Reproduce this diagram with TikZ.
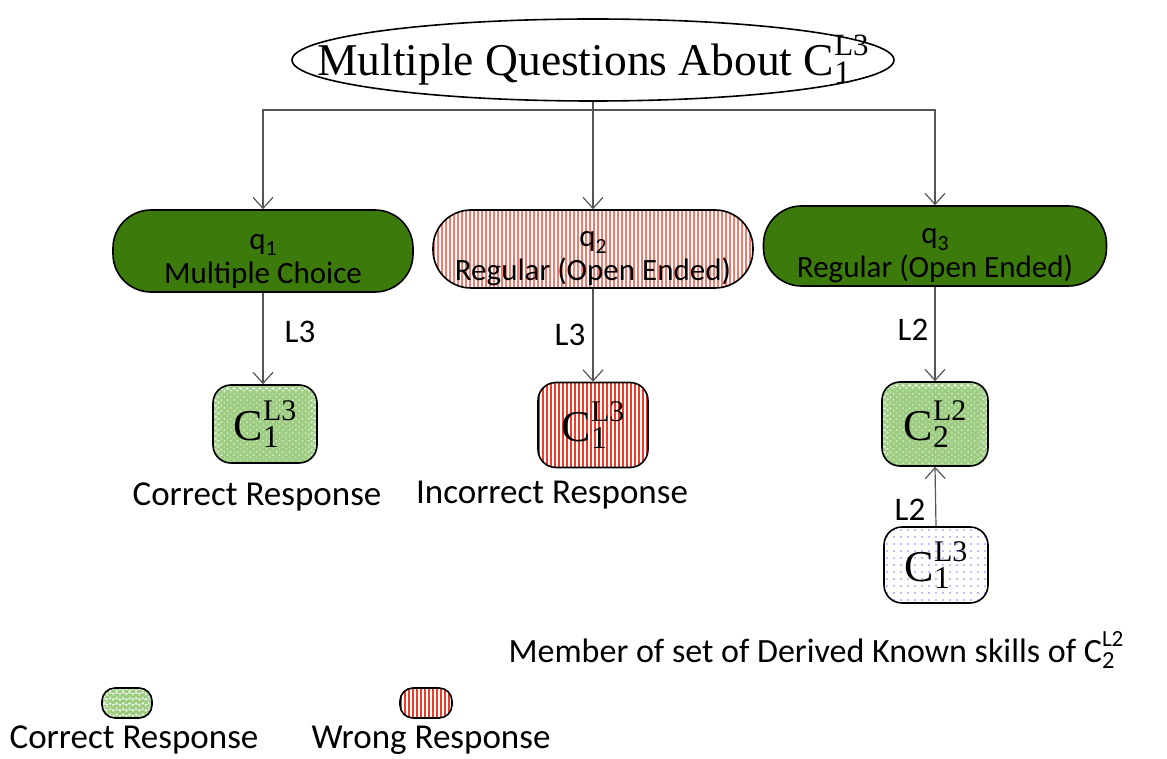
\documentclass[tikz,border=0pt]{standalone}
\usepackage{fontspec}
\usepackage{graphicx}
\setmainfont{Liberation Serif}
\setsansfont{Carlito}
\usetikzlibrary{shapes.misc,shapes.geometric,arrows.meta,decorations.pathmorphing}

\definecolor{qgreen}{HTML}{3C7A0C}
\definecolor{lgreen}{HTML}{F4FAEE}
\definecolor{zgreen}{HTML}{9CCC80}
\definecolor{sred}{HTML}{F03A2A}
\definecolor{pred}{HTML}{F27A6C}
\definecolor{lineg}{HTML}{555555}

\newcommand{\Cs}[2]{C\rlap{\raisebox{-0.17em}{\scalebox{0.72}{#1}}}\raisebox{0.45em}{\scalebox{0.68}{#2}}}
\newcommand{\qs}[1]{\rule{0pt}{35pt}q\raisebox{-0.2em}{\scalebox{0.7}{#1}}}

\tikzset{
  conn/.style={draw=lineg, line width=1.2pt, -{Straight Barb[length=11pt,width=20pt,line width=1.2pt]}},
  plain/.style={draw=lineg, line width=1.2pt},
  stripes/.style 2 args={path picture={
    \foreach \i in {0,...,90}
      \draw[#1, line width=#2] ([xshift=\i*4pt+1pt]path picture bounding box.north west) -- ([xshift=\i*4pt+1pt]path picture bounding box.south west);}},
  zz/.style={path picture={
    \foreach \j in {0,...,20}
      \draw[#1, line width=0.5pt, decorate, decoration={zigzag, segment length=6.5pt, amplitude=1.5pt}]
        ([yshift=-\j*5.5pt-2.5pt]path picture bounding box.north west) -- ([yshift=-\j*5.5pt-2.5pt]path picture bounding box.north east);}},
  dd/.style={path picture={
    \foreach \i in {0,...,16} \foreach \j in {0,...,12}
      \fill[blue!50] ([xshift=\i*7pt+3pt, yshift=-\j*7pt-3pt]path picture bounding box.north west) circle (0.8pt);}},
  qbox/.style={rectangle, rounded corners=38pt, draw=black, line width=1.6pt, align=center,
    font=\sffamily\fontsize{31}{32}\selectfont, inner xsep=0pt, inner ysep=-8pt},
  qgreenbox/.style={qbox, fill=qgreen},
  qredbox/.style={qbox, fill=white, stripes={pred}{1.2pt}},
  cbox/.style={rectangle, rounded corners=18pt, draw=black, line width=1.6pt,
    font=\fontsize{44}{46}\selectfont, inner sep=0pt},
  cgreen/.style={cbox, fill=lgreen, zz=zgreen},
  cred/.style={cbox, fill=white, stripes={sred}{2.6pt}},
  cdots/.style={cbox, fill=white, dd},
  lbl/.style={font=\sffamily\fontsize{33}{36}\selectfont, inner sep=0pt},
  txt/.style={font=\sffamily\fontsize{35}{38}\selectfont, inner sep=0pt},
}

\begin{document}
\begin{tikzpicture}[x=1pt,y=-1pt]
\useasboundingbox (0,0) rectangle (1167,759);

\node[ellipse, draw=black, line width=1.6pt, minimum width=602pt, minimum height=82pt,
  inner xsep=-90pt, inner ysep=0pt,
  font=\fontsize{45.5}{50}\selectfont] (title) at (593,60) {Multiple Questions About \Cs{1}{L3}};
\coordinate (hub) at (593,110);

\node[qgreenbox, minimum width=300pt, minimum height=82pt] (q1) at (263,251)
  {\qs{1}\\[2pt]Multiple Choice};
\node[qredbox, minimum width=320pt, minimum height=78pt] (q2) at (593,249)
  {\qs{2}\\[2pt]Regular (Open Ended)};
\node[qgreenbox, minimum width=343pt, minimum height=80pt] (q3) at (935,246)
  {\qs{3}\\[2pt]Regular (Open Ended)};

\draw[plain] (title.south) -- (hub);
\draw[conn] (hub) -- (q2.north);
\draw[conn] (hub) -| (q1.north);
\draw[conn] (hub) -| (q3.north);

\node[cgreen, minimum width=104pt, minimum height=78pt] (c1) at (265,424) {\Cs{1}{L3}};
\node[cred, minimum width=110pt, minimum height=85pt] (c2) at (593,425) {\Cs{1}{L3}};
\node[cgreen, minimum width=106pt, minimum height=84pt] (c3) at (935,424) {\Cs{2}{L2}};
\node[cdots, minimum width=104pt, minimum height=76pt] (c4) at (936,565) {\Cs{1}{L3}};

\draw[conn] (q1.south) -- (q1.south |- c1.north);
\draw[conn] (q2.south) -- (c2.north);
\draw[conn] (q3.south) -- (c3.north);
\draw[conn] (c4.north) -- (c3.south);

\node[lbl] (l1) at (300,332) {L3};
\node[lbl] (l2) at (570,335) {L3};
\node[lbl] (l3) at (913,330) {L2};
\node[lbl] (l4) at (910,510) {L2};

\node[txt] (r1) at (257,497) {Correct Response};
\node[txt] (r2) at (552,495) {Incorrect Response};
\node[txt, font=\sffamily\fontsize{34}{38}\selectfont] (member) at (816,650) {Member of set of Derived Known skills of \Cs{2}{L2}};

\node[cbox, rounded corners=13pt, fill=white, zz=zgreen, minimum width=50pt, minimum height=30pt] (lg1) at (127,703) {};
\node[cbox, rounded corners=13pt, fill=white, stripes={sred}{1.8pt}, minimum width=52pt, minimum height=30pt] (lg2) at (426,703) {};
\node[txt] (t1) at (134,740) {Correct Response};
\node[txt] (t2) at (431,740) {Wrong Response};
\end{tikzpicture}
\end{document}
